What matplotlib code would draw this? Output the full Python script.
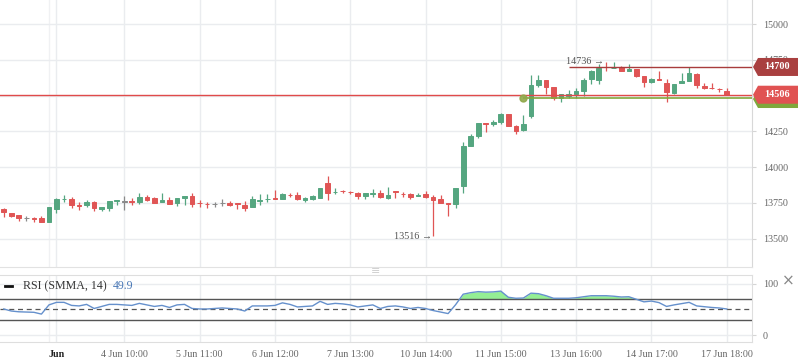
import numpy as np
import matplotlib.pyplot as plt
from matplotlib.patches import Polygon
from matplotlib.lines import Line2D

plt.rcParams['font.family'] = ['Liberation Serif', 'DejaVu Sans']
plt.rcParams['font.size'] = 7

# ---- values ----
tick_pos = [7, 16, 26, 36, 46, 56, 66, 76, 86, 96]
tick_labels = ['Jun', '4 Jun 10:00', '5 Jun 11:00', '6 Jun 12:00', '7 Jun 13:00',
               '10 Jun 14:00', '11 Jun 15:00', '13 Jun 16:00', '14 Jun 17:00', '17 Jun 18:00']
price_ticks = [13500, 13750, 14000, 14250, 14500, 14750, 15000]
# 14500 sits fully under the last-price tag, so its label is left blank
price_labels = ['13500', '13750', '14000', '14250', '', '14750', '15000']

opens = [13707, 13677, 13663, 13642, 13641, 13642, 13619, 13707, 13775, 13777,
         13732, 13735, 13754, 13707, 13717, 13763, 13759, 13762, 13759, 13791,
         13782, 13759, 13768, 13749, 13787, 13801, 13749, 13742, 13742, 13749,
         13752, 13747, 13738, 13724, 13766, 13775, 13784, 13780, 13806, 13805,
         13773, 13780, 13784, 13891, 13826, 13832, 13825, 13822, 13801, 13815,
         13821, 13786, 13835, 13815, 13812, 13796, 13812, 13791, 13777, 13749,
         13744, 13870, 14147, 14219, 14306, 14301, 14317, 14371, 14287, 14261,
         14354, 14573, 14608, 14559, 14485, 14499, 14508, 14534, 14613, 14608,
         14701, 14694, 14697, 14674, 14685, 14636, 14592, 14615, 14585, 14520,
         14585, 14601, 14650, 14566, 14556, 14546, 14531]
highs = [13712, 13677, 13663, 13656, 13654, 13661, 13721, 13787, 13805, 13791,
         13759, 13770, 13763, 13719, 13763, 13768, 13801, 13787, 13817, 13805,
         13791, 13817, 13791, 13787, 13796, 13822, 13770, 13754, 13756, 13777,
         13763, 13747, 13763, 13798, 13812, 13812, 13840, 13819, 13822, 13826,
         13794, 13808, 13854, 13940, 13852, 13840, 13833, 13826, 13822, 13845,
         13840, 13861, 13835, 13828, 13821, 13819, 13833, 13805, 13805, 13749,
         13851, 14177, 14233, 14306, 14306, 14327, 14378, 14371, 14296, 14364,
         14643, 14643, 14608, 14559, 14508, 14538, 14555, 14620, 14678, 14718,
         14736, 14732, 14706, 14718, 14685, 14636, 14620, 14671, 14615, 14578,
         14655, 14701, 14655, 14585, 14585, 14555, 14550]
lows = [13654, 13654, 13626, 13626, 13614, 13619, 13619, 13682, 13754, 13712,
        13700, 13719, 13696, 13693, 13693, 13738, 13703, 13735, 13740, 13763,
        13747, 13759, 13742, 13731, 13735, 13724, 13724, 13717, 13724, 13731,
        13731, 13710, 13694, 13724, 13733, 13754, 13775, 13780, 13794, 13770,
        13754, 13768, 13784, 13770, 13812, 13822, 13812, 13777, 13777, 13794,
        13782, 13777, 13782, 13793, 13777, 13796, 13786, 13516, 13747, 13660,
        13716, 13817, 14147, 14205, 14247, 14289, 14301, 14289, 14231, 14254,
        14345, 14562, 14508, 14469, 14452, 14480, 14480, 14499, 14578, 14578,
        14671, 14690, 14671, 14674, 14632, 14557, 14585, 14608, 14457, 14511,
        14585, 14601, 14550, 14545, 14543, 14527, 14506]
closes = [13689, 13661, 13645, 13642, 13639, 13619, 13721, 13777, 13778, 13738,
          13730, 13754, 13712, 13719, 13763, 13768, 13759, 13759, 13789, 13768,
          13752, 13770, 13742, 13782, 13796, 13745, 13747, 13740, 13742, 13749,
          13735, 13745, 13712, 13775, 13768, 13778, 13777, 13815, 13804, 13777,
          13787, 13801, 13854, 13822, 13829, 13830, 13823, 13801, 13822, 13817,
          13793, 13805, 13823, 13814, 13793, 13805, 13793, 13772, 13751, 13744,
          13851, 14147, 14219, 14306, 14301, 14313, 14371, 14289, 14254, 14301,
          14573, 14608, 14562, 14480, 14508, 14508, 14531, 14608, 14669, 14695,
          14697, 14696, 14671, 14685, 14639, 14592, 14615, 14608, 14522, 14578,
          14601, 14655, 14573, 14555, 14554, 14544, 14506]

rsi = [51, 47, 45.5, 45, 44.5, 41, 59, 64, 64, 58,
       57, 60, 52, 56, 60, 60, 59, 58, 62, 59,
       56, 58, 54, 59, 60, 52, 51, 51, 52, 53,
       52, 51, 47, 57, 57, 57, 58, 63, 60, 55,
       56, 57, 66, 60, 62, 61, 59, 55, 57, 59,
       52, 56, 57, 55, 52, 54, 52, 48, 45, 42,
       59.5, 80, 83, 85, 84, 84.5, 86, 74, 72, 72.5,
       82, 81, 77, 72, 72, 72, 73, 75, 77, 77,
       77, 76, 74.5, 75, 70, 65, 66.5, 63.5, 56, 59,
       61.5, 64, 57, 55.5, 54, 53, 51]
rsi_label = '49.9'

last_price = 14506
level_price = 14700
level_start = 75
entry_idx, entry_price = 69, 14481
max_idx, max_price = 80, 14736
min_idx, min_price = 57, 13516

UP, DOWN, FLAT = '#55a680', '#e05555', '#8a8a8a'
GRID = '#eaecef'

W, H = 798, 363
fig = plt.figure(figsize=(W / 100, H / 100), dpi=100)
ax = fig.add_axes([0, 96 / H, 752 / W, 267 / H])
ax2 = fig.add_axes([0, 21 / H, 752 / W, 67 / H])

x = np.arange(len(opens))
o, hi, lo, c = (np.array(v, dtype=float) for v in (opens, highs, lows, closes))
cols = np.where(c > o, UP, np.where(c < o, DOWN, FLAT))

xlim = (-0.5, 99.35)

# ---- price panel ----
ax.vlines(x, lo, hi, colors=cols, linewidth=0.9, zorder=3)
ax.bar(x, np.maximum(np.abs(c - o), 1), bottom=np.minimum(o, c), width=0.62,
       color=cols, edgecolor=cols, linewidth=0.7, zorder=4)

ax.axhline(last_price, color='#e04a4a', lw=1, zorder=5)
ax.hlines(level_price, level_start, xlim[1], color='#a83c3c', lw=1, zorder=5)
ax.hlines(entry_price, entry_idx, xlim[1], color='#82a83c', lw=1.2, zorder=5)
ax.plot(entry_idx, entry_price, 'o', ms=5, color='#8fa84a', alpha=0.9, zorder=6)

ax.text(max_idx - 0.3, max_price, '14736 →', ha='right', va='center', color='#555', size=7.3)
ax.text(min_idx - 0.2, min_price, '13516 →', ha='right', va='center', color='#555', size=7.3)

ax.set_xlim(*xlim)
ax.set_ylim(13302, 15168)
ax.set_xticks(tick_pos)
ax.set_xticklabels([])
ax.set_yticks(price_ticks)
ax.set_yticklabels(price_labels)
ax.yaxis.tick_right()
ax.tick_params(axis='y', length=3, width=0.8, color='#d5d5d5', pad=5, labelcolor='#666', labelsize=7.2)
ax.tick_params(axis='x', length=0)
ax.grid(True, color=GRID, lw=1, zorder=0)
ax.axvline(6, color='#f0f1f3', lw=1, zorder=0)
for s in ['top', 'left']:
    ax.spines[s].set_visible(False)
ax.spines['right'].set_color('#d8d8d8')
ax.spines['bottom'].set_color('#e2e2e2')

# ---- RSI panel ----
r = np.array(rsi)
ax2.fill_between(x, r, 70, where=r > 70, interpolate=True, color='#94ef94', lw=0, zorder=2)
ax2.plot(x, r, color='#6590cc', lw=1, zorder=4)
ax2.axhline(70, color='#555', lw=1, zorder=3)
ax2.axhline(30, color='#555', lw=1, zorder=3)
ax2.axhline(50, color='#555', lw=0.9, ls=(0, (4, 3)), zorder=3)
ax2.set_xlim(*xlim)
ax2.set_ylim(-13.7, 117.6)
ax2.set_yticks([0, 100])
ax2.yaxis.tick_right()
ax2.tick_params(axis='y', length=3, width=0.8, color='#d5d5d5', pad=5, labelcolor='#666', labelsize=7.2)
ax2.set_xticks(tick_pos)
ax2.set_xticklabels(tick_labels)
ax2.tick_params(axis='x', length=0, pad=6, labelcolor='#666', labelsize=7.2)
xl = ax2.get_xticklabels()
xl[0].set_color('#222')
xl[0].set_fontweight('bold')
ax2.grid(True, color=GRID, lw=1, zorder=0)
ax2.axvline(6, color='#f0f1f3', lw=1, zorder=0)
ax2.spines['left'].set_visible(False)
for s in ['right', 'top', 'bottom']:
    ax2.spines[s].set_color('#dedede')

# ---- price tags on the right axis ----
def price_tag(price, color, label=None):
    yc = ax.transData.transform((0, price))[1]
    pts = [(753, yc), (758, yc + 9), (W, yc + 9), (W, yc - 9), (758, yc - 9)]
    fig.add_artist(Polygon([(px / W, py / H) for px, py in pts], closed=True,
                           transform=fig.transFigure, facecolor=color, edgecolor='none', zorder=5))
    if label:
        fig.text(777 / W, yc / H, label, ha='center', va='center', color='white',
                 weight='bold', size=7.3, zorder=6)

price_tag(level_price, '#a94040', '14700')
price_tag(entry_price - 5, '#7fa83c')
price_tag(last_price, '#e05252', '14506')

# ---- header / decorations ----
fig.add_artist(Line2D([5 / W, 12 / W], [(H - 286) / H] * 2, color='#111', lw=2))
fig.text(23 / W, (H - 286) / H, 'RSI (SMMA, 14)', va='center', size=8.6, color='#333')
fig.text(113 / W, (H - 286) / H, rsi_label, va='center', size=8.6, color='#4a78b6')
fig.text(376 / W, (H - 271) / H, '≡', ha='center', va='center', size=8, color='#cfcfcf', family='DejaVu Sans')
fig.text(788 / W, (H - 281) / H, '×', ha='center', va='center', size=11, color='#888', family='DejaVu Sans')

fig.savefig('out.png', dpi=100)
